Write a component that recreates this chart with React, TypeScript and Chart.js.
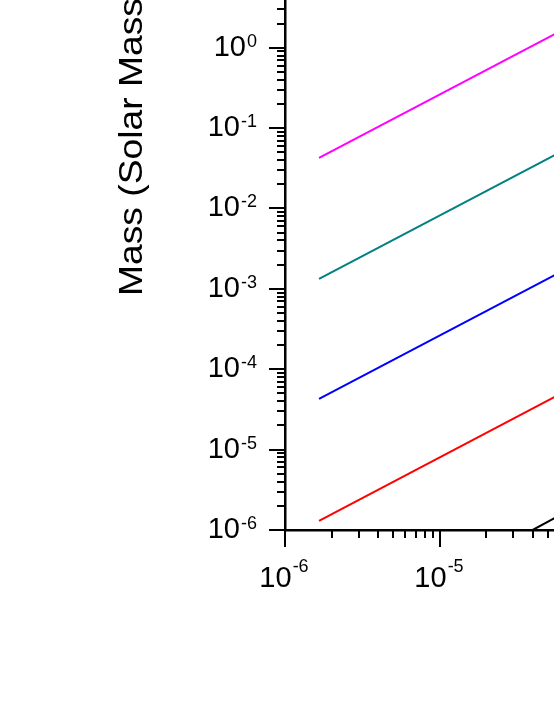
import React, { useEffect, useRef } from "react";
import { Chart, registerables } from "chart.js";

Chart.register(...registerables);

// ---- data ----
const X_DECADES = [-6, -5, -4, -3, -2];
const Y_DECADES = [-6, -5, -4, -3, -2, -1, 0, 1, 2, 3, 4];
const X_MIN = 1e-6;
const X_MAX = 1e-2;
const Y_MIN = 1e-6;
const Y_MAX = 1e4;

const LINE_X = [1.66e-6, 1.0e-4];
const MAGENTA_Y = [0.0425, 2.68];
const TEAL_Y = [1.33e-3, 0.0838];
const BLUE_Y = [4.27e-5, 2.69e-3];
const RED_Y = [1.3e-6, 8.2e-5];
const BLACK_X = [4.0e-5, 5.5e-5, 1.0e-4];
const BLACK_Y = [1.0e-6, 1.4e-6, 2.6e-6];

const Y_TITLE = "Mass (Solar Masses)";
const FONT = "'Liberation Sans', Arial, sans-serif";

const pts = (xs: number[], ys: number[]) => xs.map((x, i) => ({ x, y: ys[i] }));

const isMajor = (v: number) => {
  const l = Math.log10(v);
  return Math.abs(l - Math.round(l)) < 1e-9;
};

const buildTicks = (decades: number[]) => {
  const out: { value: number }[] = [];
  decades.forEach((d, i) => {
    const base = Math.pow(10, d);
    if (i === decades.length - 1) {
      out.push({ value: base });
      return;
    }
    for (let m = 1; m <= 9; m++) out.push({ value: Number((m * base).toPrecision(3)) });
  });
  return out;
};

const axisDecor = {
  id: "axisDecor",
  afterDraw(chart: any) {
    const { ctx, chartArea, scales } = chart;
    const xs = scales.x;
    const ys = scales.y;
    ctx.save();
    ctx.strokeStyle = "#000";
    ctx.fillStyle = "#000";
    ctx.lineWidth = 2;
    ctx.lineCap = "butt";
    const baseFont = `29px ${FONT}`;
    const supFont = `18px ${FONT}`;
    // x axis ticks
    for (const t of xs.ticks) {
      const px = Math.round(xs.getPixelForValue(t.value));
      if (px < chartArea.left - 1 || px > chartArea.right + 1) continue;
      const major = isMajor(t.value);
      const len = major ? 17 : 8;
      ctx.beginPath();
      ctx.moveTo(px, chartArea.bottom);
      ctx.lineTo(px, chartArea.bottom + len);
      ctx.stroke();
      if (major) {
        const exp = String(Math.round(Math.log10(t.value)));
        ctx.font = baseFont;
        const w1 = ctx.measureText("10").width;
        ctx.font = supFont;
        const w2 = ctx.measureText(exp).width;
        const start = px - (w1 + w2 + 1) / 2 - 1;
        ctx.textAlign = "left";
        ctx.textBaseline = "alphabetic";
        ctx.font = baseFont;
        ctx.fillText("10", start, chartArea.bottom + 56.7);
        ctx.font = supFont;
        ctx.fillText(exp, start + w1 + 1, chartArea.bottom + 41.7);
      }
    }
    // y axis ticks
    for (const t of ys.ticks) {
      const py = Math.round(ys.getPixelForValue(t.value));
      if (py < chartArea.top - 1 || py > chartArea.bottom + 1) continue;
      const major = isMajor(t.value);
      const len = major ? 16 : 8;
      ctx.beginPath();
      ctx.moveTo(chartArea.left, py);
      ctx.lineTo(chartArea.left - len, py);
      ctx.stroke();
      if (major) {
        const exp = String(Math.round(Math.log10(t.value)));
        const right = chartArea.left - 28;
        ctx.textAlign = "right";
        ctx.textBaseline = "alphabetic";
        ctx.font = supFont;
        const w2 = ctx.measureText(exp).width;
        ctx.fillText(exp, right, py - 1);
        ctx.font = baseFont;
        ctx.fillText("10", right - w2 - 1, py + 8.3);
      }
    }
    // y axis title (rotated, slightly stretched along its length)
    ctx.translate(chartArea.left - 152.5, chartArea.bottom - 234);
    ctx.rotate(-Math.PI / 2);
    ctx.scale(1.095, 1);
    ctx.font = `34px ${FONT}`;
    ctx.textAlign = "left";
    ctx.textBaseline = "middle";
    ctx.fillText(Y_TITLE, 0, 0);
    ctx.restore();
  },
};

const CANVAS_W = 960;
const CANVAS_H = 1037;
const OFFSET_TOP = 320;

export default function App() {
  const ref = useRef<HTMLCanvasElement | null>(null);
  useEffect(() => {
    if (!ref.current) return;
    const mk = (label: string, data: any[], color: string) => ({
      label,
      data,
      borderColor: color,
      backgroundColor: color,
      borderWidth: 2,
      pointRadius: 0,
      fill: false,
      tension: 0,
    });
    const chart = new Chart(ref.current, {
      type: "line",
      data: {
        datasets: [
          mk("magenta", pts(LINE_X, MAGENTA_Y), "#FF00FF"),
          mk("teal", pts(LINE_X, TEAL_Y), "#008080"),
          mk("blue", pts(LINE_X, BLUE_Y), "#0000FF"),
          mk("red", pts(LINE_X, RED_Y), "#FF0000"),
          mk("black", pts(BLACK_X, BLACK_Y), "#000000"),
        ],
      },
      options: {
        animation: false,
        responsive: false,
        devicePixelRatio: 1,
        layout: { padding: { top: 46.2, right: CANVAS_W - 903.4, left: 0, bottom: 0 } },
        plugins: { legend: { display: false }, tooltip: { enabled: false } },
        scales: {
          x: {
            type: "logarithmic",
            min: X_MIN,
            max: X_MAX,
            grid: { display: false, drawTicks: false },
            border: { display: true, color: "#000", width: 2.5 },
            ticks: { display: false },
            afterBuildTicks: (s: any) => {
              s.ticks = buildTicks(X_DECADES);
            },
            afterFit: (s: any) => {
              s.height = CANVAS_H - (OFFSET_TOP + 530);
            },
          },
          y: {
            type: "logarithmic",
            min: Y_MIN,
            max: Y_MAX,
            grid: { display: false, drawTicks: false },
            border: { display: true, color: "#000", width: 2.5 },
            ticks: { display: false },
            afterBuildTicks: (s: any) => {
              s.ticks = buildTicks(Y_DECADES);
            },
            afterFit: (s: any) => {
              s.width = 285;
            },
          },
        },
      } as any,
      plugins: [axisDecor],
    });
    return () => chart.destroy();
  }, []);
  return (
    <div
      style={{
        position: "fixed",
        left: 0,
        top: 0,
        width: 554,
        height: 717,
        overflow: "hidden",
        background: "#fff",
      }}
    >
      <div style={{ position: "absolute", left: 0, top: -OFFSET_TOP }}>
        <canvas ref={ref} width={CANVAS_W} height={CANVAS_H} style={{ display: "block" }} />
      </div>
    </div>
  );
}
